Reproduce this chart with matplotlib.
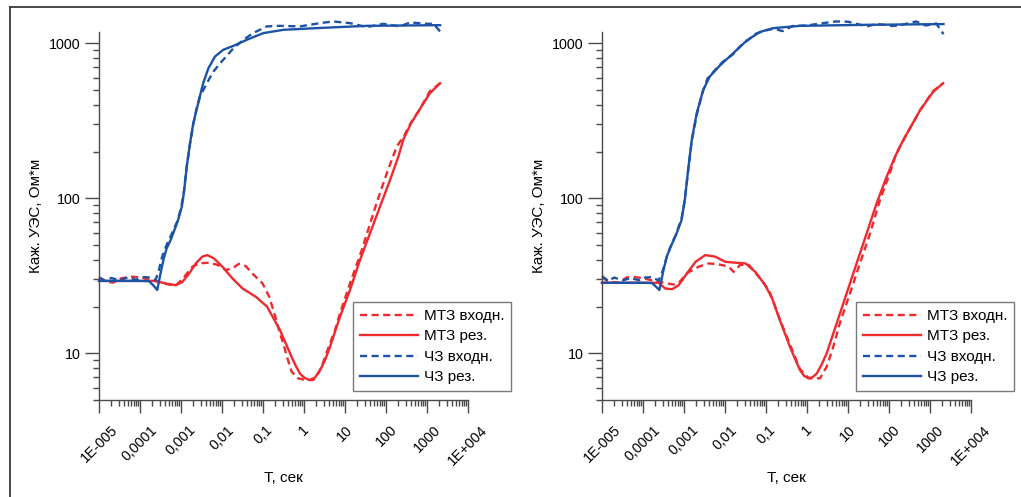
import numpy as np
import matplotlib
matplotlib.use("Agg")
import matplotlib.pyplot as plt
from matplotlib.lines import Line2D
from matplotlib.ticker import FixedLocator, LogLocator, NullFormatter, FixedFormatter

plt.rcParams['font.family'] = ['Liberation Sans', 'DejaVu Sans']

RED = '#EE2A2E'
BLUE = '#1C53A6'

# ---------------- data (log10 of period T, apparent resistivity) ----------------
# Left panel
L_chz_res_lgT = [-5.0, -4.5, -4.0, -3.78, -3.68, -3.58, -3.50, -3.42, -3.35, -3.25, -3.19, -3.07,
                 -2.98, -2.93, -2.86, -2.78, -2.70, -2.58, -2.46, -2.33, -2.17, -1.97, -1.72,
                 -1.40, -0.99, -0.50, 0.31, 1.53, 3.32]
L_chz_res_rho = [29.3, 29.3, 29.3, 29.2, 27.5, 25.6, 32.7, 41, 47.5, 54, 59.4, 72.4,
                 88.3, 108, 160, 226, 305, 410, 552, 690, 820, 906, 961,
                 1050, 1161, 1219, 1250, 1293, 1306]

L_chz_in_lgT = [-5.0, -4.85, -4.7, -4.5, -4.3, -4.1, -3.9, -3.75, -3.62, -3.54, -3.46, -3.35,
                -3.25, -3.1, -3.0, -2.93, -2.86, -2.78, -2.70, -2.62, -2.54, -2.37, -2.21,
                -2.01, -1.72, -1.48, -1.24, -0.91, -0.59, -0.10, 0.39, 0.71, 1.12, 1.53,
                1.93, 2.34, 2.59, 3.0, 3.16, 3.32]
L_chz_in_rho = [30.8, 29.5, 30.6, 29.6, 30.8, 29.8, 31.0, 30.8, 29.7, 34.4, 42, 50,
                57, 70, 86, 110, 160, 225, 300, 380, 452, 552, 656,
                760, 927, 1050, 1161, 1282, 1293, 1282, 1346, 1380, 1346, 1268,
                1333, 1282, 1360, 1333, 1333, 1188]

L_mtz_res_lgT = [-5.0, -4.5, -4.0, -3.62, -3.37, -3.13, -2.97, -2.80, -2.64, -2.48, -2.36,
                 -2.20, -1.99, -1.75, -1.50, -1.18, -0.90, -0.76, -0.585, -0.341, -0.22,
                 -0.098, 0.01, 0.129, 0.26, 0.39, 0.51, 0.634, 0.878, 1.122, 1.366, 1.61,
                 1.854, 2.098, 2.30, 2.42, 2.6, 2.76, 3.07, 3.32]
L_mtz_res_rho = [29.3, 29.3, 29.3, 29.3, 28.2, 27.5, 28.8, 32.7, 38.0, 42.0, 43.0,
                 41.0, 36.2, 30.5, 26.2, 23.2, 20.0, 17.1, 14.1, 10.0, 8.5,
                 7.4, 6.95, 6.73, 6.95, 7.76, 9.0, 11.0, 17.2, 25.6, 40, 59.4,
                 88.3, 131, 185, 238, 300, 353, 475, 552]

L_mtz_in_lgT = [-5.0, -4.85, -4.65, -4.45, -4.2, -3.95, -3.75, -3.55, -3.37, -3.13, -2.95,
                -2.72, -2.56, -2.32, -2.11, -1.91, -1.75, -1.59, -1.42, -1.26, -1.01, -0.85,
                -0.72, -0.59, -0.505, -0.40, -0.30, -0.146, 0.024, 0.227, 0.33, 0.43, 0.634,
                0.756, 0.878, 1.122, 1.41, 1.77, 2.02, 2.26, 2.45, 2.6, 2.8, 3.07, 3.2, 3.32]
L_mtz_in_rho = [31.0, 29.0, 28.6, 30.5, 31.2, 30.8, 29.6, 29.0, 28.0, 27.3, 30.5,
                36.2, 38.0, 38.4, 37.2, 34.4, 35.3, 37.7, 36.5, 32.7, 28.2, 23.2,
                18.0, 13.5, 11.6, 9.2, 7.6, 6.9, 6.73, 6.73, 7.3, 8.2, 11.6,
                14.1, 18.1, 28.2, 46.4, 93, 145, 215, 255, 305, 365, 490, 520, 552]

# Right panel
R_chz_res_lgT = [-5.0, -4.5, -4.0, -3.78, -3.69, -3.60, -3.50, -3.42, -3.34, -3.18, -3.06,
                 -2.98, -2.89, -2.81, -2.69, -2.53, -2.37, -2.12, -1.80, -1.47, -1.15,
                 -0.82, -0.17, 1.46, 3.33]
R_chz_res_rho = [28.5, 28.5, 28.5, 28.4, 27.0, 25.6, 34.4, 42, 47.5, 59.4, 72.4,
                 97.6, 160, 238, 353, 500, 610, 720, 860, 1040, 1180,
                 1250, 1293, 1313, 1327]

R_chz_in_lgT = [-5.0, -4.85, -4.7, -4.5, -4.3, -4.1, -3.95, -3.78, -3.62, -3.52, -3.42, -3.34,
                -3.2, -3.06, -2.98, -2.89, -2.81, -2.69, -2.55, -2.43, -2.2, -2.05, -1.80,
                -1.62, -1.47, -1.25, -1.0, -0.8, -0.6, -0.35, 0.0, 0.40, 0.7, 1.0, 1.46,
                1.7, 2.1, 2.3, 2.66, 2.9, 3.15, 3.33]
R_chz_in_rho = [31.5, 29.3, 30.8, 29.5, 30.6, 29.6, 30.8, 31.0, 29.5, 34.0, 42, 48,
                58, 74, 98, 158, 236, 345, 480, 590, 690, 760, 850,
                960, 1030, 1150, 1210, 1240, 1195, 1290, 1300, 1346, 1380, 1375, 1282,
                1330, 1290, 1310, 1380, 1300, 1340, 1143]

R_mtz_res_lgT = [-5.0, -4.5, -4.0, -3.62, -3.46, -3.29, -3.13, -2.93, -2.72, -2.48, -2.24,
                 -1.99, -1.75, -1.50, -1.26, -1.02, -0.85, -0.659, -0.415, -0.29, -0.171,
                 -0.07, 0.032, 0.13, 0.236, 0.36, 0.48, 0.724, 0.968, 1.21, 1.456, 1.70,
                 1.944, 2.146, 2.35, 2.76, 3.07, 3.32]
R_mtz_res_rho = [28.5, 28.5, 28.5, 28.5, 26.2, 25.9, 27.5, 32.7, 38.9, 43.0, 42.0,
                 38.9, 38.4, 38.0, 33.5, 27.5, 22.6, 16.3, 11.0, 9.2, 7.8,
                 7.15, 6.9, 7.0, 7.4, 8.5, 10.0, 15.6, 24.4, 38, 59.4, 93,
                 138, 185, 238, 370, 483, 552]

R_mtz_in_lgT = [-5.0, -4.85, -4.6, -4.4, -4.2, -4.0, -3.8, -3.6, -3.45, -3.25, -3.1, -2.92,
                -2.64, -2.40, -2.16, -1.91, -1.79, -1.63, -1.42, -1.18, -0.93, -0.66, -0.41,
                -0.17, 0.05, 0.317, 0.48, 0.64, 0.80, 1.05, 1.29, 1.54, 1.78, 2.02, 2.18,
                2.4, 2.76, 3.07, 3.2, 3.32]
R_mtz_in_rho = [31.0, 29.0, 28.6, 30.8, 31.0, 30.5, 29.6, 29.0, 28.3, 27.8, 29.0, 33.0,
                36.2, 38.0, 37.5, 36.2, 33.5, 37.2, 37.2, 31.2, 25.6, 16.5, 11.3,
                7.9, 6.9, 6.9, 8.2, 11.0, 15.6, 24.4, 38, 59.4, 97.6, 145, 195,
                250, 370, 490, 520, 552]

x_ticks = [1e-5, 1e-4, 1e-3, 1e-2, 1e-1, 1, 10, 100, 1000, 1e4]
x_ticklabels = ['1E-005', '0,0001', '0,001', '0,01', '0,1', '1', '10', '100', '1000', '1E+004']
y_ticks = [10, 100, 1000]
y_ticklabels = ['10', '100', '1000']
legend_labels = ['МТЗ входн.', 'МТЗ рез.', 'ЧЗ входн.', 'ЧЗ рез.']
xlabel = 'Т, сек'
ylabel = 'Каж. УЭС, Ом*м'

# ---------------- figure ----------------
W, H = 1021, 497
fig = plt.figure(figsize=(W / 100, H / 100), dpi=100)

# outer frame (top and left lines)
fig.add_artist(Line2D([10 / W, 10 / W], [0, 1 - 7 / H], color='#3a3a3a', lw=1.3))
fig.add_artist(Line2D([10 / W, 1], [1 - 7 / H, 1 - 7 / H], color='#3a3a3a', lw=1.3))

AXC = '#4a4a4a'
DASH = (3.0, 1.9)
LW = 1.7


def make_panel(x0px, data):
    ax = fig.add_axes([x0px / W, 1 - 400 / H, 369 / W, 368 / H])
    ax.set_xscale('log')
    ax.set_yscale('log')
    ax.set_xlim(1e-5, 1e4)
    ax.set_ylim(5, 1180)
    (mi_t, mi_r), (mr_t, mr_r), (ci_t, ci_r), (cr_t, cr_r) = data
    l1, = ax.plot(10 ** np.array(mi_t), mi_r, color=RED, lw=LW, dashes=DASH, clip_on=False)
    l2, = ax.plot(10 ** np.array(mr_t), mr_r, color=RED, lw=LW, clip_on=False)
    l3, = ax.plot(10 ** np.array(ci_t), ci_r, color=BLUE, lw=LW, dashes=DASH, clip_on=False)
    l4, = ax.plot(10 ** np.array(cr_t), cr_r, color=BLUE, lw=LW, clip_on=False)

    for s in ['top', 'right']:
        ax.spines[s].set_visible(False)
    for s in ['left', 'bottom']:
        ax.spines[s].set_color(AXC)
        ax.spines[s].set_linewidth(1.0)

    ax.xaxis.set_major_locator(FixedLocator(x_ticks))
    ax.xaxis.set_major_formatter(FixedFormatter(x_ticklabels))
    ax.xaxis.set_minor_locator(LogLocator(base=10, subs=np.arange(2, 10), numticks=100))
    ax.xaxis.set_minor_formatter(NullFormatter())
    ax.yaxis.set_major_locator(FixedLocator(y_ticks))
    ax.yaxis.set_major_formatter(FixedFormatter(y_ticklabels))
    ax.yaxis.set_minor_locator(LogLocator(base=10, subs=np.arange(2, 10), numticks=100))
    ax.yaxis.set_minor_formatter(NullFormatter())

    ax.tick_params(axis='both', which='major', direction='out', color=AXC, width=1.0,
                   labelsize=10.3, labelcolor='black')
    ax.tick_params(axis='x', which='major', length=9.5, pad=7)
    ax.tick_params(axis='y', which='major', length=10, pad=3)
    ax.tick_params(axis='both', which='minor', direction='out', color=AXC, width=1.0, length=4.5)
    for lab in ax.get_xticklabels():
        lab.set_rotation(45)
        lab.set_ha('center')
        lab.set_va('top')

    ax.set_xlabel(xlabel, fontsize=11)
    ax.xaxis.set_label_coords(0.5, -0.212)
    ax.xaxis.label.set_va('center')
    ax.set_ylabel(ylabel, fontsize=11)
    ax.yaxis.set_label_coords(-0.172, 0.5)
    ax.yaxis.label.set_va('center')

    leg = ax.legend([l1, l2, l3, l4], legend_labels, loc='lower left',
                    bbox_to_anchor=(0.688, 0.024), borderaxespad=0, fontsize=11,
                    handlelength=3.8, handletextpad=0.4, labelspacing=0.42,
                    borderpad=0.45, fancybox=False, framealpha=1)
    leg.get_frame().set_edgecolor('#7a7a7a')
    leg.get_frame().set_linewidth(1.0)
    leg.set_zorder(5)
    return ax


make_panel(99, [(L_mtz_in_lgT, L_mtz_in_rho), (L_mtz_res_lgT, L_mtz_res_rho),
                (L_chz_in_lgT, L_chz_in_rho), (L_chz_res_lgT, L_chz_res_rho)])
make_panel(602, [(R_mtz_in_lgT, R_mtz_in_rho), (R_mtz_res_lgT, R_mtz_res_rho),
                 (R_chz_in_lgT, R_chz_in_rho), (R_chz_res_lgT, R_chz_res_rho)])

fig.savefig('out.png', dpi=100)
